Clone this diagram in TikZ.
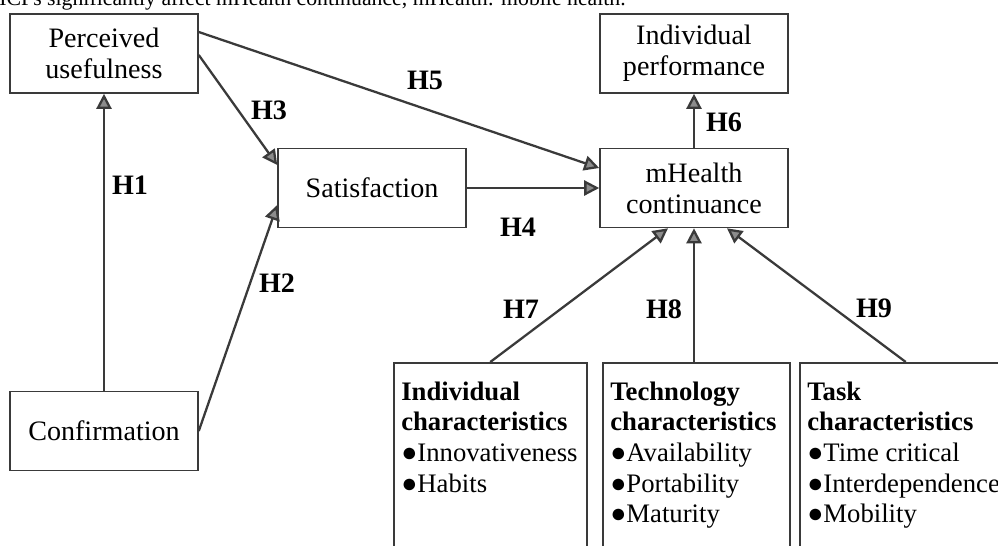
\documentclass[tikz,border=0pt]{standalone}
\usepackage{fontspec}
\setmainfont{Liberation Serif}
\usetikzlibrary{arrows.meta}

\begin{document}
\begin{tikzpicture}[x=0.02cm, y=-0.02cm,
  font=\fontsize{16}{17.6}\selectfont,
  box/.style={draw=linec, line width=0.9pt, minimum width=3.76cm, minimum height=1.58cm, align=center, inner sep=2pt},
  charbox/.style={draw=linec, line width=0.9pt, anchor=north west, inner xsep=0.15cm, inner ysep=0.38cm,
    font=\fontsize{15.2}{17.4}\selectfont},
  hyp/.style={draw=linec, line width=1.3pt, -{Triangle[length=0.3cm, width=0.3cm, fill=tipc]}},
  hlab/.style={font=\fontsize{16}{17.6}\selectfont\bfseries}]

\definecolor{linec}{HTML}{3A3A3A}
\definecolor{tipc}{HTML}{8C8C8C}

\useasboundingbox (0,0) rectangle (998,545);
\clip (0,0) rectangle (998,545);

% caption line cut by the page edge
\node[anchor=base west, inner sep=0pt, font=\fontsize{12.4}{14}\selectfont] (cap) at (-1,5)
  {ICPs significantly affect mHealth continuance, mHealth: mobile health.};

\node[box] (pu)   at (104,53.5) {Perceived\\usefulness};
\node[box] (conf) at (104,431)  {Confirmation};
\node[box] (sat)  at (372,188)  {Satisfaction};
\node[box] (mh)   at (694,188)  {mHealth\\continuance};
\node[box] (ip)   at (694,53.5) {Individual\\performance};

% fit characteristics, open at the bottom
\node[charbox] (indc) at (393,362) {\parbox[t][4cm][t]{3.56cm}{\raggedright
  \textbf{Individual}\\\textbf{characteristics}\\●Innovativeness\\●Habits}};
\node[charbox] (techc) at (602,362) {\parbox[t][4cm][t]{3.44cm}{\raggedright
  \textbf{Technology}\\\textbf{characteristics}\\●Availability\\●Portability\\●Maturity}};
\node[charbox] (taskc) at (799,362) {\parbox[t][4cm][t]{3.94cm}{\raggedright
  \textbf{Task}\\\textbf{characteristics}\\●Time critical\\●Interdependence\\●Mobility}};

\draw[hyp] (conf) -- (pu);
\draw[hyp] (conf.east) -- ([yshift=-0.34cm]sat.west);
\draw[hyp] ([yshift=-0.03cm]pu.east) -- ([yshift=0.46cm]sat.west);
\draw[hyp] (sat) -- (mh);
\draw[hyp] ([yshift=0.43cm]pu.east) -- ([yshift=0.4cm]mh.west);
\draw[hyp] (mh) -- (ip);
\draw[hyp] (indc.north) -- ([xshift=-0.52cm]mh.south);
\draw[hyp] (mh.south |- techc.north) -- (mh.south);
\draw[hyp] (taskc.north) -- ([xshift=0.66cm]mh.south);

\node[hlab] (h1) at (130,185) {H1};
\node[hlab] (h2) at (277,283) {H2};
\node[hlab] (h3) at (269,110) {H3};
\node[hlab] (h4) at (518,227) {H4};
\node[hlab] (h5) at (425,80)  {H5};
\node[hlab] (h6) at (724,122) {H6};
\node[hlab] (h7) at (521,309) {H7};
\node[hlab] (h8) at (664,309) {H8};
\node[hlab] (h9) at (874,308) {H9};

\end{tikzpicture}
\end{document}
